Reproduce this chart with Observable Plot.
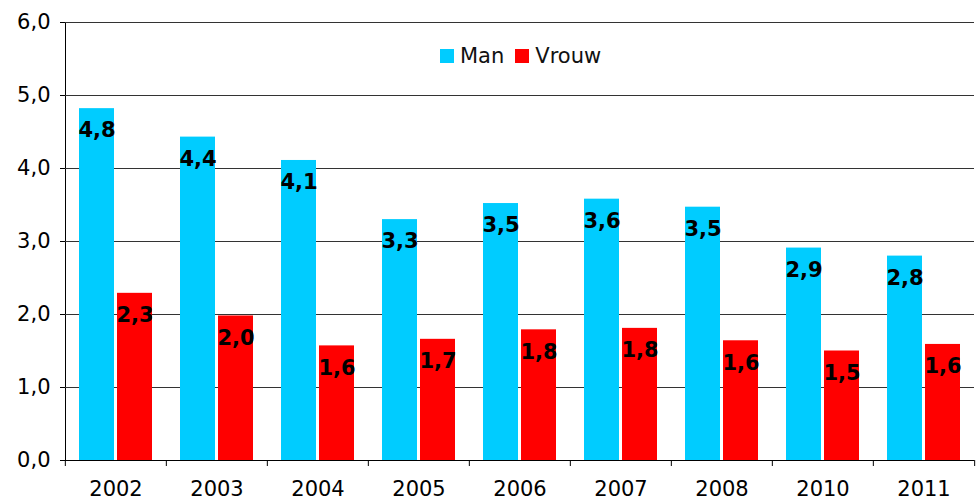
<!DOCTYPE html>
<html><head><meta charset="utf-8">
<script src="https://cdn.jsdelivr.net/npm/d3@7"></script>
<script src="https://cdn.jsdelivr.net/npm/@observablehq/plot@0.6"></script>
<style>
body{margin:0;background:#fff;}
#wrap{position:relative;width:978px;height:501px;font-family:"DejaVu Sans",Verdana,sans-serif;}
#legend{position:absolute;left:440px;top:45px;display:flex;align-items:center;font-size:21px;color:#111;line-height:22px;}
#legend .item{display:flex;align-items:center;margin-right:11px;}
#legend .sw{width:14px;height:14px;margin-right:6px;display:inline-block;}
</style></head>
<body><div id="wrap"></div>
<script>
const years = ["2002","2003","2004","2005","2006","2007","2008","2010","2011"];
const series = ["Man","Vrouw"];
const colors = ["#00CCFF","#FF0000"];
const man = [4.82,4.43,4.11,3.30,3.52,3.58,3.47,2.91,2.80];
const vrouw = [2.29,1.98,1.57,1.66,1.79,1.81,1.64,1.50,1.59];
const yTicks = [0,1,2,3,4,5,6];

const data = years.flatMap((y,i)=>[
  {year:y, sex:series[0], value:man[i]},
  {year:y, sex:series[1], value:vrouw[i]}
]);
const fmt = d => d.toFixed(1).replace(".", ",");
const W = 978, ML = 63, MR = 3;
const step = (W - ML - MR) / years.length;

const chart = Plot.plot({
  width: W, height: 501,
  marginLeft: ML, marginRight: MR, marginTop: 22, marginBottom: 41,
  style: {fontFamily: "DejaVu Sans, Verdana, sans-serif", fontSize: "21px", color: "#000", background: "#fff"},
  fx: {domain: years, padding: 0, label: null},
  x: {domain: series, paddingInner: 0.077, paddingOuter: 0.3376, axis: null},
  y: {domain: [0,6], ticks: yTicks, tickFormat: fmt, tickSize: 5, tickPadding: 10, label: null, line: true},
  color: {domain: series, range: colors},
  marks: [
    Plot.gridY(yTicks.filter(d => d > 0), {stroke: "#333", strokeOpacity: 1}),
    Plot.barY(data, {fx: "year", x: "sex", y: "value", fill: "sex"}),
    Plot.text(data, {fx: "year", x: "sex", y: "value", text: d => fmt(d.value), dy: 22,
      fontWeight: "bold", fontSize: 21, fill: "#000"}),
    Plot.ruleY([0], {stroke: "#000"}),
    Plot.axisFx({anchor: "bottom", tickSize: 0, tickPadding: 21, label: null, fontSize: 21}),
    Plot.axisFx({anchor: "bottom", tickSize: 6, tickFormat: () => "", dx: -step/2, label: null}),
    Plot.axisFx({anchor: "bottom", ticks: [years[years.length-1]], tickSize: 6, tickFormat: () => "", dx: step/2, label: null})
  ]
});
const wrap = document.getElementById("wrap");
wrap.appendChild(chart);
const leg = document.createElement("div");
leg.id = "legend";
series.forEach((s,i) => {
  const it = document.createElement("span");
  it.className = "item";
  const sw = document.createElement("span");
  sw.className = "sw"; sw.style.background = colors[i];
  it.appendChild(sw);
  it.appendChild(document.createTextNode(s));
  leg.appendChild(it);
});
wrap.appendChild(leg);
</script>
</body></html>
